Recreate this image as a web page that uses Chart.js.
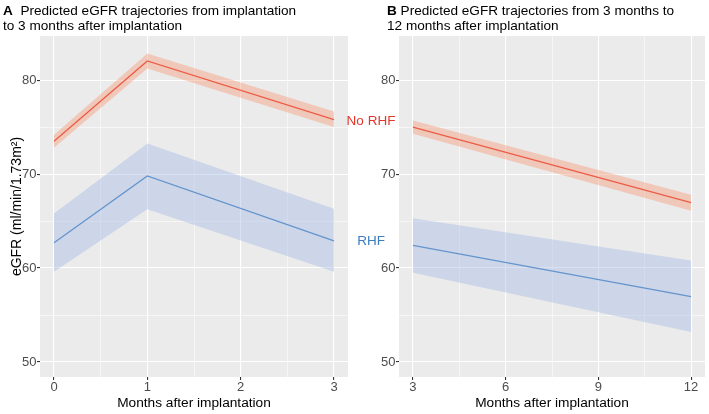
<!DOCTYPE html>
<html>
<head>
<meta charset="utf-8">
<script src="https://cdn.jsdelivr.net/npm/chart.js@4"></script>
<style>
  html, body { margin: 0; padding: 0; background: #fff; }
  #wrap { position: relative; width: 709px; height: 414px; overflow: hidden; font-family: "Liberation Sans", Arial, sans-serif; }
  .ttl { position: absolute; top: 4px; font-size: 13.6px; line-height: 14.7px; color: #000; white-space: nowrap; }
  #cA { position: absolute; left: 0; top: 0; }
  #cB { position: absolute; left: 355px; top: 0; }
</style>
</head>
<body>
<div id="wrap">
  <canvas id="cA" width="400" height="414"></canvas>
  <canvas id="cB" width="354" height="414"></canvas>
  <div class="ttl" style="left:3px"><b>A</b>&nbsp; Predicted eGFR trajectories from implantation<br>to 3 months after implantation</div>
  <div class="ttl" style="left:387px"><b>B</b> Predicted eGFR trajectories from 3 months to<br>12 months after implantation</div>
</div>
<script>
// panel A: implantation -> 3 months
const monthsA = [0, 1, 3];
const noRhfA   = [73.5, 82.05, 75.8];
const noRhfALo = [72.8, 81.25, 75.0];
const noRhfAHi = [74.2, 82.85, 76.65];
const rhfA     = [62.7, 69.8, 62.9];
const rhfALo   = [59.6, 66.25, 59.6];
const rhfAHi   = [65.8, 73.25, 66.3];
const xTicksA  = [0, 1, 2, 3];

// panel B: 3 -> 12 months
const monthsB = [3, 12];
const noRhfB   = [75.0, 66.95];
const noRhfBLo = [74.3, 66.1];
const noRhfBHi = [75.7, 67.8];
const rhfB     = [62.4, 56.95];
const rhfBLo   = [59.5, 53.2];
const rhfBHi   = [65.3, 60.8];
const xTicksB  = [3, 6, 9, 12];

const yTicks = [50, 60, 70, 80];
const seriesNames = ['No RHF', 'RHF'];

const RED = '#E4372C', BLUE = '#3B7DBE';
const RED_BAND = 'rgba(247,147,110,0.4)', BLUE_BAND = 'rgba(160,182,227,0.4)';
const FONT = '"Liberation Sans", Arial, sans-serif';

const pts = (xs, ys) => xs.map((x, i) => ({ x, y: ys[i] }));

// majors plus midpoints for ggplot-like minor grid
function withMinors(major) {
  const out = [];
  major.forEach((v, i) => {
    out.push(v);
    if (i < major.length - 1) out.push((v + major[i + 1]) / 2);
  });
  return out;
}

const plotBg = {
  id: 'plotBg',
  beforeDraw(chart) {
    const { ctx, chartArea: a } = chart;
    ctx.save();
    ctx.fillStyle = '#EBEBEB';
    ctx.fillRect(a.left, a.top, a.right - a.left, a.bottom - a.top);
    ctx.restore();
  }
};

const endLabels = {
  id: 'endLabels',
  afterDraw(chart) {
    const { ctx, chartArea: a, scales: { y } } = chart;
    ctx.save();
    ctx.font = '13.5px ' + FONT;
    ctx.textAlign = 'center';
    ctx.textBaseline = 'middle';
    ctx.fillStyle = RED;
    ctx.fillText(seriesNames[0], a.right + 23, y.getPixelForValue(noRhfA[noRhfA.length - 1]) + 2);
    ctx.fillStyle = BLUE;
    ctx.fillText(seriesNames[1], a.right + 23, y.getPixelForValue(rhfA[rhfA.length - 1]));
    ctx.restore();
  }
};

function makeChart(id, xs, nr, nrLo, nrHi, r, rLo, rHi, xMajor, xMin, xMax, yWidth, yTitle, padRight, extra) {
  const isMajorX = v => xMajor.includes(v);
  const isMajorY = v => yTicks.includes(v);
  return new Chart(document.getElementById(id), {
    type: 'line',
    data: {
      datasets: [
        { data: pts(xs, nrLo), borderWidth: 0, pointRadius: 0, fill: false },
        { data: pts(xs, nrHi), borderWidth: 0, pointRadius: 0, fill: '-1', backgroundColor: RED_BAND },
        { data: pts(xs, rLo), borderWidth: 0, pointRadius: 0, fill: false },
        { data: pts(xs, rHi), borderWidth: 0, pointRadius: 0, fill: '-1', backgroundColor: BLUE_BAND },
        { label: seriesNames[0], data: pts(xs, nr), borderColor: RED, borderWidth: 1.3, pointRadius: 0, fill: false },
        { label: seriesNames[1], data: pts(xs, r), borderColor: BLUE, borderWidth: 1.3, pointRadius: 0, fill: false }
      ]
    },
    options: {
      responsive: false,
      animation: false,
      layout: { padding: { top: 36, left: 0, right: padRight, bottom: 0 } },
      elements: { line: { tension: 0 } },
      plugins: { legend: { display: false }, tooltip: { enabled: false } },
      scales: {
        x: {
          type: 'linear', min: xMin, max: xMax,
          afterBuildTicks: s => { s.ticks = withMinors(xMajor).map(v => ({ value: v })); },
          afterFit: s => { s.height = 37; },
          border: { display: false },
          grid: {
            color: '#FFFFFF',
            lineWidth: c => isMajorX(c.tick.value) ? 1.1 : 0.55,
            tickLength: 3,
            tickColor: c => isMajorX(c.tick.value) ? '#333333' : 'rgba(0,0,0,0)',
            tickWidth: 1.1
          },
          ticks: {
            autoSkip: false, maxRotation: 0, padding: 0,
            color: '#4D4D4D', font: { family: FONT, size: 13 },
            callback: v => isMajorX(v) ? String(v) : ''
          },
          title: {
            display: true, text: 'Months after implantation', color: '#000',
            font: { family: FONT, size: 13.7 }, padding: { top: 0, bottom: 3 }
          }
        },
        y: {
          type: 'linear', min: 48.4, max: 84.7,
          afterBuildTicks: s => { s.ticks = withMinors(yTicks).map(v => ({ value: v })); },
          afterFit: s => { s.width = yWidth; },
          border: { display: false },
          grid: {
            color: '#FFFFFF',
            lineWidth: c => isMajorY(c.tick.value) ? 1.1 : 0.55,
            tickLength: 3,
            tickColor: c => isMajorY(c.tick.value) ? '#333333' : 'rgba(0,0,0,0)',
            tickWidth: 1.1
          },
          ticks: {
            padding: 0.5, color: '#4D4D4D', font: { family: FONT, size: 13 },
            callback: v => isMajorY(v) ? String(v) : ''
          },
          title: {
            display: !!yTitle, text: yTitle || '', color: '#000',
            font: { family: FONT, size: 14 }, padding: { top: 8.6, bottom: 0 }
          }
        }
      }
    },
    plugins: [plotBg].concat(extra)
  });
}

makeChart('cA', monthsA, noRhfA, noRhfALo, noRhfAHi, rhfA, rhfALo, rhfAHi,
  xTicksA, -0.15, 3.15, 40, 'eGFR (ml/min/1.73m²)', 52, [endLabels]);
makeChart('cB', monthsB, noRhfB, noRhfBLo, noRhfBHi, rhfB, rhfBLo, rhfBHi,
  xTicksB, 2.55, 12.45, 44, null, 4, []);
</script>
</body>
</html>
